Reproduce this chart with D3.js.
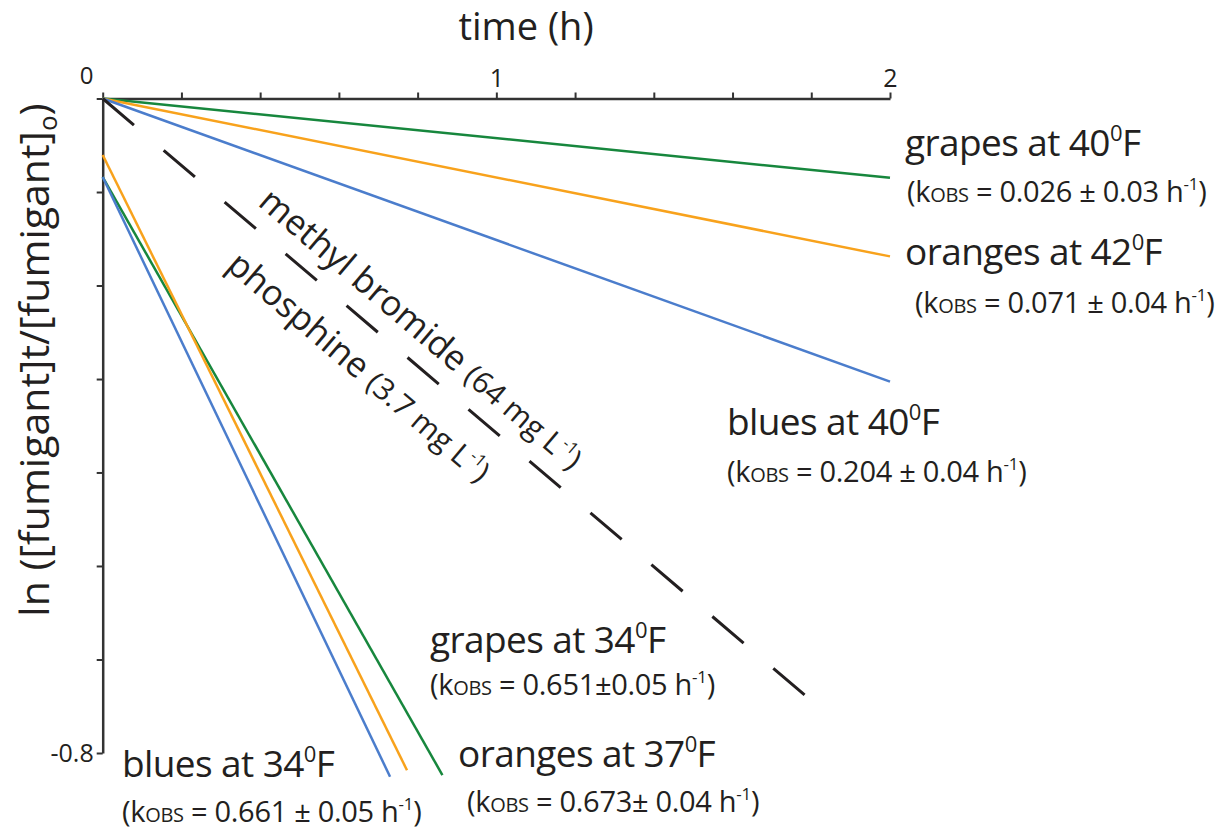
<!DOCTYPE html>
<html><head><meta charset="utf-8">
<script src="https://cdn.jsdelivr.net/npm/d3@7"></script>
<style>
body{margin:0;background:#fff}
svg{display:block}
text{font-family:"Open Sans",sans-serif;fill:#231f20}
</style>
</head><body>
<svg id="chart" width="1232" height="835"></svg>
<script>
// ---------- data ----------
const xTicks = [0, 0.2, 0.4, 0.6, 0.8, 1, 1.2, 1.4, 1.6, 1.8, 2];
const xTickLabels = ["", "", "", "", "", "1", "", "", "", "", "2"];
const yTicks = [0, -0.1143, -0.2286, -0.3429, -0.4571, -0.5714, -0.6857, -0.8];
const yTickLabels = ["", "", "", "", "", "", "", "-0.8"];

const seriesNames = ["grapes 40F", "oranges 42F", "blues 40F", "grapes 34F", "oranges 37F", "blues 34F", "methyl bromide / phosphine"];
const seriesT0 = [0, 0, 0, 0, 0, 0, 0];
const seriesY0 = [0, 0, 0, -0.096, -0.069, -0.096, 0];
const seriesT1 = [2, 2, 2, 0.863, 0.773, 0.730, 1.793];
const seriesY1 = [-0.097, -0.193, -0.346, -0.827, -0.821, -0.829, -0.733];

const labelMain = ["grapes at 40", "oranges at 42", "blues at 40", "grapes at 34", "oranges at 37", "blues at 34"];
const labelK = ["0.026 ± 0.03", "0.071 ± 0.04", "0.204 ± 0.04", "0.651±0.05", "0.673± 0.04", "0.661 ± 0.05"];

// ---------- styles / layout ----------
const colors = ["#17873d", "#f8a21c", "#4b7dcc", "#17873d", "#f8a21c", "#4b7dcc", "#231f20"];
const dashes = [null, null, null, null, null, null, "41,39"];
const widths = [2.5, 2.5, 2.5, 2.5, 2.5, 2.5, 3];
const labelPos = [[905,156],[905,265],[727,435],[430,653],[458,767],[122,777]];
const kPos = [[907,202],[915,313],[727,482],[430,695],[467,812],[122,822]];

const svg = d3.select("#chart");
const x = d3.scaleLinear().domain([0, 2]).range([102.7, 890]);
const y = d3.scaleLinear().domain([0, -0.8]).range([98.5, 753]);

// axes
const axTop = svg.append("g").attr("transform", `translate(0,${y(0)})`)
  .call(d3.axisTop(x).tickValues(xTicks).tickSize(6).tickSizeOuter(0).tickPadding(6)
    .tickFormat((d,i) => xTickLabels[i]));
const axLeft = svg.append("g").attr("transform", `translate(${x(0)},0)`)
  .call(d3.axisLeft(y).tickValues(yTicks).tickSize(6).tickSizeOuter(0).tickPadding(3)
    .tickFormat((d,i) => yTickLabels[i]));
[axTop, axLeft].forEach(a => {
  a.attr("font-family", null).attr("font-size", null);
  a.select(".domain").attr("stroke", "#333").attr("stroke-width", 2.5);
  a.selectAll(".tick line").attr("stroke", "#333").attr("stroke-width", 2);
});
axTop.selectAll(".tick text").style("font-size", "25px").style("fill", "#231f20");
axLeft.selectAll(".tick text").style("font-size", "25px").style("letter-spacing", "0px")
  .style("fill", "#231f20").attr("dy", "0.35em");
// origin "0"
svg.append("text").attr("x", x(0) - 16).attr("y", y(0) - 15).attr("text-anchor", "middle")
  .attr("font-size", 24).text("0");

// title
svg.append("text").attr("x", 526).attr("y", 40).attr("text-anchor", "middle")
  .attr("font-size", 38).text("time (h)");

// y label
const yl = svg.append("text").attr("transform", "translate(49,360) rotate(-90)")
  .attr("text-anchor", "middle").attr("font-size", 41);
yl.append("tspan").text("ln ([fumigant]t/[fumigant]");
yl.append("tspan").attr("font-size", 26).attr("dy", 8).text("o");
yl.append("tspan").attr("dy", -8).text(")");

// lines
const line = d3.line().x(d => x(d[0])).y(d => y(d[1]));
seriesNames.forEach((n, i) => {
  svg.append("path")
    .datum([[seriesT0[i], seriesY0[i]], [seriesT1[i], seriesY1[i]]])
    .attr("d", line).attr("fill", "none")
    .attr("stroke", colors[i]).attr("stroke-width", widths[i])
    .attr("stroke-dasharray", dashes[i]);
});

// labels
labelMain.forEach((m, i) => {
  const t = svg.append("text").attr("x", labelPos[i][0]).attr("y", labelPos[i][1])
    .attr("font-size", 37).attr("letter-spacing", -0.6);
  t.append("tspan").text(m);
  t.append("tspan").attr("font-size", 22).attr("dy", -15).text("0");
  t.append("tspan").attr("dy", 15).text("F");
  const k = svg.append("text").attr("x", kPos[i][0]).attr("y", kPos[i][1])
    .attr("font-size", 29).attr("letter-spacing", -0.3);
  k.append("tspan").text("(k");
  k.append("tspan").attr("font-size", 20).text("OBS");
  k.append("tspan").text(" = " + labelK[i] + " h");
  k.append("tspan").attr("font-size", 17).attr("dy", -12).text("-1");
  k.append("tspan").attr("dy", 12).text(")");
});

// rotated annotations along dashed line
const ang = Math.atan2(y(seriesY1[6]) - y(0), x(seriesT1[6]) - x(0));
const ux = Math.cos(ang), uy = Math.sin(ang), nx = Math.sin(ang), ny = -Math.cos(ang);
function rot(along, off, main, paren) {
  const px = x(0) + along * ux + off * nx, py = y(0) + along * uy + off * ny;
  const t = svg.append("text")
    .attr("transform", `translate(${px},${py}) rotate(${ang * 180 / Math.PI})`)
    .attr("font-size", 35);
  t.append("tspan").text(main + " ");
  t.append("tspan").attr("font-size", 30).text(paren);
  t.append("tspan").attr("font-size", 17).attr("dy", -13).text("-1");
  t.append("tspan").attr("font-size", 30).attr("dy", 13).text(")");
}
rot(186, 19, "methyl bromide", "(64 mg L");
rot(203, -50, "phosphine", "(3.7 mg L");
</script>
</body></html>
